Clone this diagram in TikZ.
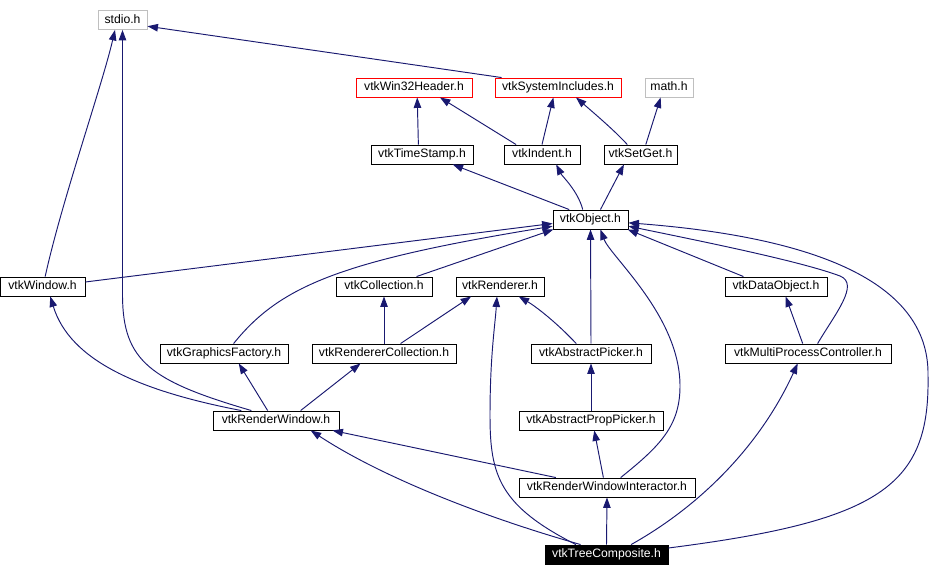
\documentclass[tikz,border=0pt]{standalone}
\usepackage{fontspec}
\setmainfont{Liberation Sans}
\usepackage{tikz}
\usepackage{xcolor}
\usetikzlibrary{arrows.meta}

\definecolor{navyline}{HTML}{191970}
\definecolor{sysgray}{HTML}{BFBFBF}
\definecolor{warnred}{HTML}{FF0000}

\begin{document}
\begin{tikzpicture}[x=1pt,y=1pt,>={Triangle[length=10.5pt,width=7.5pt]},
 every node/.style={font=\fontsize{12.2}{14}\selectfont,align=center},
 filebox/.style={draw=black,fill=white,line width=0.9pt,inner sep=0pt,
   minimum height=19pt,text height=8.8pt,text depth=2.4pt,minimum width=#1},
 sysbox/.style={filebox=#1,draw=sysgray},
 winbox/.style={filebox=#1,draw=warnred},
 dep/.style={->,draw=navyline,line width=0.95pt}]
    \useasboundingbox (0,0) rectangle (944,576);
    % top rows
    \node[sysbox=49] (stdio) at (122.5,556) {stdio.h};
    \node[winbox=116] (win32) at (414,488.5) {vtkWin32Header.h};
    \node[winbox=126] (sysinc) at (558,488.5) {vtkSystemIncludes.h};
    \node[sysbox=48] (math) at (669,488.5) {math.h};
    \node[filebox=102] (tstamp) at (422,421.5) {vtkTimeStamp.h};
    \node[filebox=76] (indent) at (542,421.5) {vtkIndent.h};
    \node[filebox=73] (setget) at (640.5,421.5) {vtkSetGet.h};
    \node[filebox=75] (obj) at (590.5,356.5) {vtkObject.h};
    % middle rows
    \node[filebox=85] (window) at (42.5,289.5) {vtkWindow.h};
    \node[filebox=96] (coll) at (384,289.5) {vtkCollection.h};
    \node[filebox=88] (rend) at (500,289.5) {vtkRenderer.h};
    \node[filebox=102] (dobj) at (776,289.5) {vtkDataObject.h};
    \node[filebox=128] (gfact) at (224,222.5) {vtkGraphicsFactory.h};
    \node[filebox=144] (rcoll) at (384,222.5) {vtkRendererCollection.h};
    \node[filebox=120] (apick) at (591,222.5) {vtkAbstractPicker.h};
    \node[filebox=166] (mpc) at (808,222.5) {vtkMultiProcessController.h};
    % bottom rows
    \node[filebox=126] (rwin) at (276,155.5) {vtkRenderWindow.h};
    \node[filebox=144] (appick) at (591,155.5) {vtkAbstractPropPicker.h};
    \node[filebox=176] (rwi) at (607,88.5) {vtkRenderWindowInteractor.h};
    \node[filebox=123,fill=black,text=white] (tree) at (606.5,21.5) {vtkTreeComposite.h};

    % includes
    \draw[dep] (sysinc.170) -- (stdio.-14);
    \draw[dep] (window.75) .. controls (62,376) and (102,490) .. (stdio.-127);
    \draw[dep] (rwin.158) .. controls (150,195) and (123,215) .. (122.5,280) -- (stdio.south);
    \draw[dep] (tstamp.110) -- (win32.-72);
    \draw[dep] (indent.159) -- (win32.-21);
    \draw[dep] (indent.north) -- (sysinc.-115);
    \draw[dep] (setget.143) .. controls (615,445) and (595,462) .. (sysinc.-29);
    \draw[dep] (setget.62) -- (math.-130);
    \draw[dep] (obj.155) -- (tstamp.-18);
    \draw[dep] (obj.128) .. controls (578,385) and (562,400) .. (indent.-35);
    \draw[dep] (obj.45) -- (setget.-149);
    \draw[dep] (window.6) -- (obj.-174);
    \draw[dep] (gfact.46) .. controls (280,290) and (340,315) .. (obj.-170);
    \draw[dep] (coll.17) -- (obj.-165);
    \draw[dep] (apick.north) -- (obj.south);
    \draw[dep] (rwi.36) .. controls (660,130) and (680,150) .. (680,190)
      .. controls (680,260) and (610,320) .. (obj.-45);
    \draw[dep] (dobj.163) -- (obj.-15);
    \draw[dep] (mpc.46) .. controls (835,262) and (860,292) .. (840,300)
      .. controls (800,315) and (700,335) .. (obj.-10);
    \draw[dep] (tree.6) .. controls (880,55) and (930,90) .. (928,200)
      .. controls (930,300) and (800,340) .. (obj.-5);
    \draw[dep] (rcoll.north) -- (coll.south);
    \draw[dep] (rcoll.31) -- (rend.-161);
    \draw[dep] (apick.146) .. controls (555,255) and (535,270) .. (rend.-28);
    \draw[dep] (tree.162) .. controls (500,70) and (490,100) .. (490,160)
      .. controls (490,220) and (495,250) .. (rend.-107);
    \draw[dep] (mpc.118) -- (dobj.-46);
    \draw[dep] (rwin.164) .. controls (140,185) and (70,215) .. (window.-52);
    \draw[dep] (rwin.130) -- (gfact.-34);
    \draw[dep] (rwin.22) -- (rcoll.-157);
    \draw[dep] (appick.north) -- (apick.south);
    \draw[dep] (rwi.110) -- (appick.-72);
    \draw[dep] (rwi.169) -- (rwin.-10);
    \draw[dep] (tree.159) .. controls (480,60) and (380,100) .. (rwin.-16);
    \draw[dep] (tree.north) -- (rwi.south);
    \draw[dep] (tree.22) .. controls (700,70) and (760,130) .. (mpc.-136);
\end{tikzpicture}
\end{document}
